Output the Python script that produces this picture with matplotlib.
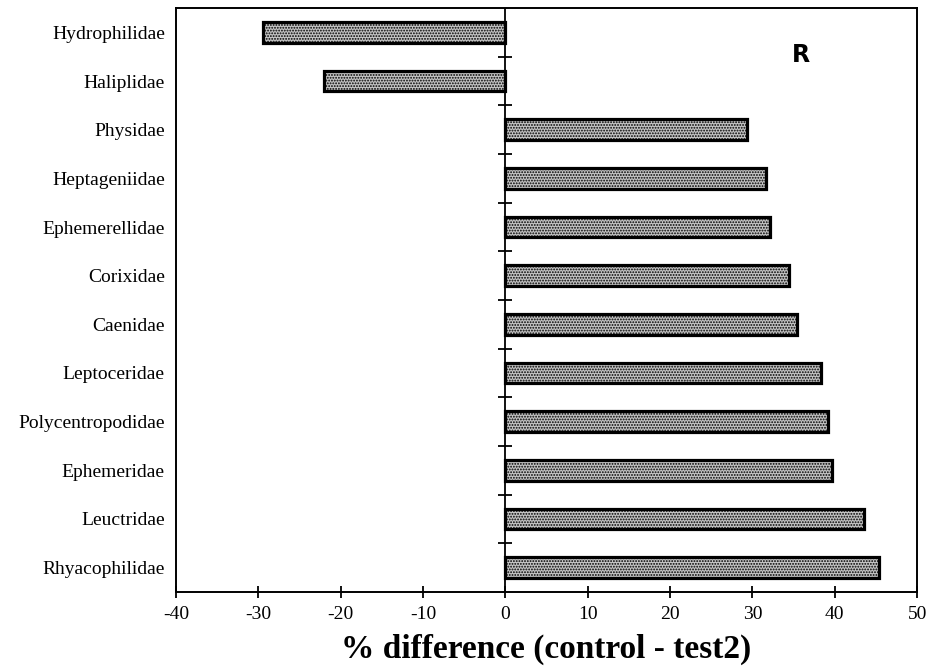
import matplotlib.pyplot as plt
import numpy as np

families = ["Hydrophilidae", "Haliplidae", "Physidae", "Heptageniidae",
            "Ephemerellidae", "Corixidae", "Caenidae", "Leptoceridae",
            "Polycentropodidae", "Ephemeridae", "Leuctridae", "Rhyacophilidae"]
diff = [-29.4, -22.0, 29.3, 31.6, 32.1, 34.5, 35.4, 38.3, 39.2, 39.7, 43.5, 45.4]
xticks = [-40, -30, -20, -10, 0, 10, 20, 30, 40, 50]

plt.rcParams['font.family'] = ['Liberation Serif', 'DejaVu Serif']
plt.rcParams['hatch.color'] = '#2a2a2a'
plt.rcParams['hatch.linewidth'] = 0.9

fig = plt.figure(figsize=(9.33, 6.68), dpi=100)
ax = fig.add_axes([0.1886, 0.1138, 0.7944, 0.8742])

y = np.arange(len(families))
ax.barh(y, diff, height=0.42, color='#c4c4c4', edgecolor='black',
        linewidth=2.3, hatch='......', zorder=3)

# zero line with little category ticks
ax.axvline(0, color='black', linewidth=1.3, zorder=4)
ax.plot(np.zeros(len(families) - 1), y[:-1] + 0.5, marker='_', markersize=10,
        color='black', linestyle='none', markeredgewidth=1.3, zorder=4)

ax.set_xlim(-40, 50)
ax.set_ylim(len(families) - 0.5, -0.5)
ax.set_xticks(xticks)
ax.set_xticklabels([str(t) for t in xticks], fontsize=14)
ax.set_yticks(y)
ax.set_yticklabels(families, fontsize=14)
ax.tick_params(axis='y', length=0, pad=8)
ax.tick_params(axis='x', direction='inout', length=8, width=1.3, pad=6)

for s in ax.spines.values():
    s.set_linewidth(1.4)

ax.set_xlabel("% difference (control - test2)", fontsize=24, fontweight='bold',
              labelpad=8)
ax.text(0.843, 0.92, "R", transform=ax.transAxes, fontsize=17, fontweight='bold',
        family='DejaVu Sans', ha='center', va='center')

fig.savefig("out.png", dpi=100)
